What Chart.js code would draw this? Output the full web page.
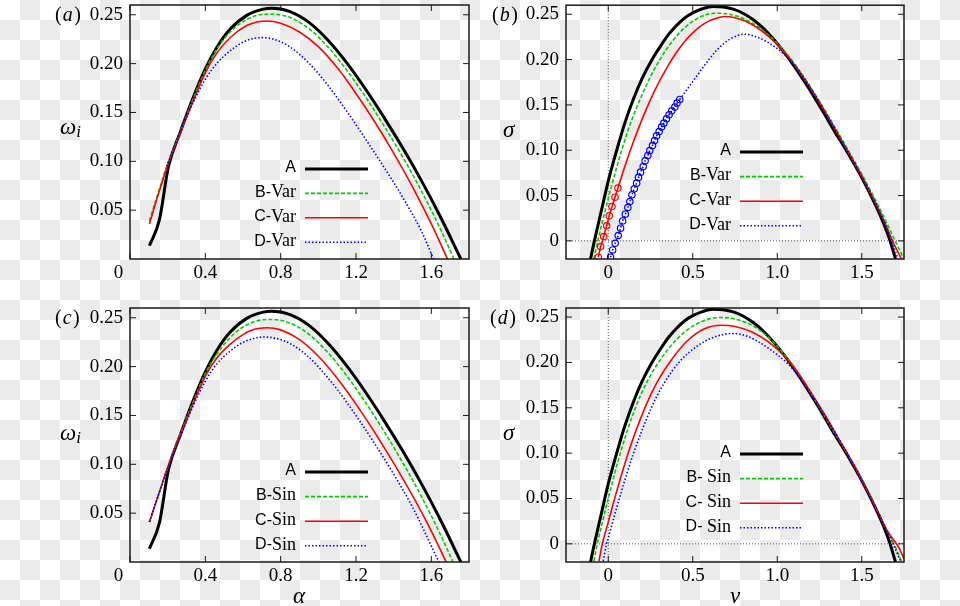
<!DOCTYPE html>
<html>
<head>
<meta charset="utf-8">
<script src="https://cdn.jsdelivr.net/npm/chart.js@4.4.1/dist/chart.umd.min.js"></script>
<style>
  html, body { margin: 0; padding: 0; }
  body {
    width: 960px; height: 606px; position: relative; overflow: hidden;
    background: repeating-conic-gradient(#ebebeb 0 25%, #ffffff 0 50%) 0 0 / 40px 40px;
  }
  .panel { position: absolute; }
</style>
</head>
<body>
<div class="panel" style="left:0;top:0;width:480px;height:300px"><canvas id="pa"></canvas></div>
<div class="panel" style="left:480px;top:0;width:480px;height:300px"><canvas id="pb"></canvas></div>
<div class="panel" style="left:0;top:300px;width:480px;height:306px"><canvas id="pc"></canvas></div>
<div class="panel" style="left:480px;top:300px;width:480px;height:306px"><canvas id="pd"></canvas></div>
<script>
// ---- data: [x, y] pairs ----
// (a), (c): omega_i against alpha
var alphaA = [[0.103,0.0136],[0.156,0.040],[0.204,0.0945],[0.265,0.129],[0.336,0.1656],[0.40,0.1946],[0.46,0.2163],[0.531,0.2351],[0.62,0.2494],[0.708,0.2558],[0.752,0.2566],[0.85,0.2532],[0.95,0.2422],[1.05,0.2242],[1.15,0.201],[1.25,0.174],[1.35,0.1445],[1.45,0.113],[1.55,0.0792],[1.65,0.0425],[1.757,0]];
var alphaBVar = [[0.103,0.039],[0.15,0.068],[0.204,0.100],[0.265,0.129],[0.336,0.1645],[0.40,0.1932],[0.46,0.2145],[0.531,0.2322],[0.62,0.2452],[0.70,0.2502],[0.761,0.2505],[0.85,0.2472],[0.95,0.2357],[1.05,0.2172],[1.15,0.1935],[1.25,0.166],[1.35,0.136],[1.45,0.1037],[1.55,0.0687],[1.65,0.03],[1.72,0]];
var alphaCVar = [[0.103,0.0358],[0.15,0.066],[0.204,0.098],[0.265,0.128],[0.336,0.162],[0.40,0.1905],[0.46,0.2105],[0.531,0.2265],[0.62,0.239],[0.68,0.2428],[0.726,0.2436],[0.80,0.2414],[0.90,0.2324],[1.0,0.2174],[1.1,0.1959],[1.2,0.1694],[1.3,0.1402],[1.4,0.1084],[1.5,0.0739],[1.6,0.0359],[1.686,0]];
var alphaDVar = [[0.195,0.095],[0.25,0.122],[0.30,0.145],[0.35,0.166],[0.40,0.184],[0.46,0.2],[0.531,0.213],[0.60,0.222],[0.65,0.2255],[0.699,0.2266],[0.76,0.2251],[0.85,0.217],[0.95,0.2005],[1.05,0.178],[1.15,0.1515],[1.25,0.123],[1.35,0.0935],[1.45,0.0625],[1.55,0.0275],[1.612,0]];
var alphaBSin = [[0.103,0.041],[0.15,0.068],[0.204,0.099],[0.265,0.13],[0.336,0.164],[0.40,0.193],[0.46,0.2125],[0.531,0.2295],[0.60,0.2405],[0.68,0.2471],[0.752,0.2483],[0.85,0.2446],[0.95,0.2331],[1.05,0.2146],[1.15,0.1909],[1.25,0.1634],[1.35,0.1334],[1.45,0.1011],[1.55,0.0661],[1.65,0.0274],[1.715,0]];
var alphaCSin = [[0.103,0.041],[0.15,0.068],[0.204,0.099],[0.265,0.129],[0.336,0.162],[0.40,0.19],[0.46,0.2085],[0.531,0.2228],[0.60,0.2328],[0.66,0.2382],[0.726,0.2398],[0.80,0.2376],[0.90,0.2276],[1.0,0.2106],[1.1,0.1881],[1.2,0.1616],[1.3,0.1324],[1.4,0.1012],[1.5,0.0679],[1.6,0.0317],[1.679,0]];
var alphaDSin = [[0.103,0.041],[0.15,0.068],[0.204,0.098],[0.265,0.127],[0.336,0.16],[0.40,0.185],[0.46,0.2025],[0.531,0.2158],[0.60,0.2248],[0.65,0.2285],[0.708,0.2303],[0.78,0.2287],[0.86,0.2225],[0.94,0.2113],[1.0,0.1999],[1.1,0.1767],[1.2,0.1499],[1.3,0.1209],[1.4,0.0899],[1.5,0.0562],[1.64,0]];

// (b), (d): sigma against v
var vA = [[-0.105,-0.02],[-0.082,0],[-0.04,0.034],[0,0.066],[0.05,0.1],[0.1,0.131],[0.15,0.157],[0.2,0.179],[0.256,0.199],[0.306,0.214],[0.356,0.2275],[0.406,0.238],[0.453,0.246],[0.503,0.2518],[0.553,0.2558],[0.62,0.2587],[0.68,0.2581],[0.74,0.2557],[0.80,0.2509],[0.86,0.2437],[0.92,0.2341],[0.98,0.2221],[1.04,0.2083],[1.10,0.1929],[1.16,0.1761],[1.22,0.1583],[1.28,0.1397],[1.34,0.1205],[1.40,0.1025],[1.46,0.0833],[1.52,0.0626],[1.58,0.04],[1.63,0.019],[1.663,0.0025],[1.70,-0.02]];
var vBVar = [[-0.085,-0.02],[-0.062,0],[-0.02,0.032],[0.02,0.061],[0.082,0.1013],[0.125,0.1263],[0.17,0.148],[0.24,0.1774],[0.305,0.2],[0.375,0.2192],[0.45,0.2347],[0.55,0.2475],[0.64,0.2512],[0.70,0.2505],[0.76,0.248],[0.82,0.2435],[0.88,0.237],[0.94,0.2285],[1.0,0.218],[1.06,0.2055],[1.12,0.1908],[1.18,0.1745],[1.24,0.157],[1.30,0.1385],[1.36,0.1195],[1.42,0.1],[1.48,0.0805],[1.54,0.0598],[1.60,0.038],[1.65,0.019],[1.698,0],[1.75,-0.02]];
var vCVar = [[0.057,0.0582],[0.10,0.0831],[0.15,0.1098],[0.20,0.134],[0.25,0.1558],[0.30,0.1751],[0.35,0.192],[0.40,0.207],[0.45,0.2195],[0.50,0.2295],[0.55,0.2375],[0.60,0.243],[0.65,0.2462],[0.689,0.2476],[0.75,0.2462],[0.81,0.2425],[0.87,0.2365],[0.93,0.2285],[0.99,0.2185],[1.05,0.2065],[1.11,0.1922],[1.17,0.1761],[1.23,0.1585],[1.29,0.14],[1.35,0.1207],[1.41,0.1012],[1.47,0.0815],[1.53,0.0608],[1.59,0.0385],[1.64,0.0185],[1.682,0],[1.735,-0.02]];
var vCVarPts = [[-0.059,-0.018],[-0.045,-0.0063],[-0.027,0.0047],[-0.0094,0.0166],[0.006,0.0276],[0.022,0.0379],[0.040,0.0482],[0.057,0.0582]];
var vDVarPts = [[0.014,-0.018],[0.026,-0.010],[0.041,-0.0026],[0.059,0.0059],[0.073,0.014],[0.085,0.022],[0.101,0.0294],[0.116,0.0368],[0.128,0.0434],[0.140,0.0508],[0.154,0.0574],[0.168,0.0637],[0.179,0.070],[0.191,0.0758],[0.207,0.082],[0.218,0.0883],[0.234,0.0942],[0.246,0.0997],[0.262,0.1052],[0.274,0.1107],[0.286,0.1159],[0.301,0.1206],[0.315,0.1255],[0.329,0.1299],[0.345,0.1347],[0.360,0.1391],[0.376,0.1435],[0.394,0.1476],[0.407,0.152],[0.423,0.156]];
var vDVar = [[0.423,0.156],[0.47,0.168],[0.52,0.181],[0.571,0.194],[0.64,0.21],[0.72,0.2225],[0.807,0.228],[0.87,0.2255],[0.93,0.2205],[0.99,0.2135],[1.05,0.2045],[1.11,0.1925],[1.17,0.1765],[1.23,0.1588],[1.29,0.1402],[1.35,0.121],[1.41,0.1015],[1.47,0.0818],[1.53,0.061],[1.59,0.0388],[1.64,0.0185],[1.675,0],[1.715,-0.02]];
var vBSin = [[-0.085,-0.019],[-0.065,0],[-0.03,0.027],[0,0.05],[0.07,0.099],[0.157,0.1482],[0.23,0.1789],[0.305,0.202],[0.40,0.2245],[0.50,0.24],[0.60,0.248],[0.669,0.2495],[0.75,0.2479],[0.85,0.2409],[0.95,0.2274],[1.05,0.2069],[1.10,0.1942],[1.16,0.1775],[1.22,0.1597],[1.28,0.1411],[1.34,0.1219],[1.40,0.1039],[1.46,0.0848],[1.52,0.0642],[1.58,0.042],[1.63,0.0225],[1.69,0],[1.735,-0.019]];
var vCSin = [[-0.055,-0.019],[-0.035,0],[0,0.024],[0.039,0.0507],[0.118,0.1001],[0.216,0.1496],[0.29,0.1785],[0.374,0.203],[0.47,0.2242],[0.57,0.2372],[0.669,0.241],[0.75,0.2396],[0.85,0.2336],[0.95,0.2224],[1.05,0.2054],[1.12,0.1896],[1.18,0.1725],[1.24,0.155],[1.30,0.1365],[1.36,0.1172],[1.42,0.0978],[1.48,0.0775],[1.54,0.0562],[1.60,0.0335],[1.65,0.0145],[1.69,0.004],[1.725,-0.006],[1.75,-0.017]];
var vDSin = [[-0.03,-0.019],[-0.01,0],[0,0.0066],[0.069,0.0521],[0.148,0.0991],[0.256,0.1504],[0.33,0.177],[0.423,0.201],[0.53,0.2185],[0.63,0.2282],[0.738,0.2319],[0.82,0.229],[0.90,0.2215],[1.0,0.2085],[1.06,0.199],[1.12,0.1865],[1.18,0.1712],[1.24,0.154],[1.30,0.1357],[1.36,0.117],[1.42,0.0975],[1.48,0.0772],[1.54,0.0558],[1.60,0.0332],[1.65,0.0137],[1.685,0],[1.73,-0.019]];

// ticks
var alphaTicks = [0, 0.4, 0.8, 1.2, 1.6];
var vTicks = [0, 0.5, 1.0, 1.5];
var omegaTicks = [0.05, 0.10, 0.15, 0.20, 0.25];
var sigmaTicks = [0, 0.05, 0.10, 0.15, 0.20, 0.25];

// line styles
var styleA = {borderColor: '#000000', borderWidth: 3};
var styleB = {borderColor: '#00cc00', borderWidth: 1.6, borderDash: [4, 2]};
var styleC = {borderColor: '#ff0000', borderWidth: 1.6};
var styleD = {borderColor: '#0000ff', borderWidth: 1.6, borderDash: [1.5, 2]};

var serif = '"Liberation Serif", "DejaVu Serif", serif';
var sans = '"Liberation Sans", Arial, sans-serif';

function curve(label, pts, st, extra) {
    return Object.assign({
        label: label,
        data: pts.map(function (p) { return {x: p[0], y: p[1]}; }),
        pointRadius: 0,
        fill: false,
        cubicInterpolationMode: 'monotone'
    }, st, extra || {});
}

function circles(label, pts, st) {
    return curve(label, pts, st, {
        inLegend: false, cubicInterpolationMode: 'default', tension: 0,
        pointRadius: 3.2, pointBorderWidth: 1.2, pointStyle: 'circle',
        pointBorderColor: st.borderColor, pointBackgroundColor: 'rgba(0,0,0,0)'
    });
}

// gnuplot look: frame, inward ticks on all sides, zero lines, legend, titles
var gp = {
    id: 'gp',
    beforeDatasetsDraw: function (chart, args, o) {
        if (!o.zero) return;
        var ctx = chart.ctx, a = chart.chartArea;
        var px = chart.scales.x.getPixelForValue(0), py = chart.scales.y.getPixelForValue(0);
        ctx.save();
        ctx.strokeStyle = '#555'; ctx.lineWidth = 1; ctx.setLineDash([1, 2]);
        ctx.beginPath();
        ctx.moveTo(px, a.top); ctx.lineTo(px, a.bottom);
        ctx.moveTo(a.left, py); ctx.lineTo(a.right, py);
        ctx.stroke();
        ctx.restore();
    },
    afterDatasetsDraw: function (chart, args, o) {
        var ctx = chart.ctx, a = chart.chartArea, sx = chart.scales.x, sy = chart.scales.y;
        ctx.save();
        ctx.strokeStyle = '#1a1a1a'; ctx.lineWidth = 1.5;
        ctx.strokeRect(a.left, a.top, a.right - a.left, a.bottom - a.top);
        ctx.lineWidth = 1;
        ctx.beginPath();
        sx.ticks.forEach(function (t) {
            var p = sx.getPixelForValue(t.value);
            ctx.moveTo(p, a.bottom); ctx.lineTo(p, a.bottom - 6);
            ctx.moveTo(p, a.top); ctx.lineTo(p, a.top + 6);
        });
        sy.ticks.forEach(function (t) {
            var p = sy.getPixelForValue(t.value);
            ctx.moveTo(a.left, p); ctx.lineTo(a.left + 6, p);
            ctx.moveTo(a.right, p); ctx.lineTo(a.right - 6, p);
        });
        ctx.stroke();

        // legend: text right-aligned, line sample on the right
        var L = o.legend;
        var x1 = a.right - L.right, x0 = x1 - L.len;
        var items = chart.data.datasets.filter(function (d) { return d.inLegend !== false; });
        items.forEach(function (d, i) {
            var y = a.bottom - L.bottom + i * L.row;
            ctx.save();
            ctx.strokeStyle = d.borderColor; ctx.lineWidth = d.borderWidth;
            ctx.setLineDash(d.borderDash || []);
            ctx.beginPath(); ctx.moveTo(x0, y); ctx.lineTo(x1, y); ctx.stroke();
            ctx.restore();
            var k = d.label.indexOf('-');
            var head = k < 0 ? d.label : d.label.slice(0, k + 1);
            var tail = k < 0 ? '' : d.label.slice(k + 1);
            ctx.fillStyle = '#000'; ctx.textAlign = 'right'; ctx.textBaseline = 'middle';
            ctx.font = '18px ' + serif;
            var tw = ctx.measureText(tail).width;
            ctx.fillText(tail, x0 - 9, y - 1);
            ctx.font = '16px ' + sans;
            ctx.fillText(head, x0 - 9 - tw, y - 1);
        });
        ctx.restore();
    },
    afterDraw: function (chart, args, o) {
        var ctx = chart.ctx;
        ctx.save();
        ctx.fillStyle = '#000'; ctx.textBaseline = 'alphabetic'; ctx.textAlign = 'left';
        // panel tag like (a)
        var t = o.tag, x = t.x;
        ctx.font = '20px ' + serif;
        ctx.fillText('(', x, t.y); x += ctx.measureText('(').width + 1;
        ctx.font = 'italic 20px ' + serif;
        ctx.fillText(t.t, x, t.y); x += ctx.measureText(t.t).width + 1.5;
        ctx.font = '20px ' + serif;
        ctx.fillText(')', x, t.y);
        // y title
        var yt = o.yTitle;
        ctx.font = 'italic 23px ' + serif;
        ctx.fillText(yt.main, yt.x, yt.y);
        if (yt.sub) {
            var w = ctx.measureText(yt.main).width;
            ctx.font = 'italic 17px ' + serif;
            ctx.fillText(yt.sub, yt.x + w, yt.y + 3);
        }
        // x title
        if (o.xTitle) {
            ctx.textAlign = 'center';
            ctx.font = 'italic 23px ' + serif;
            ctx.fillText(o.xTitle.t, o.xTitle.x, o.xTitle.y);
        }
        ctx.restore();
    }
};

function axis(dir, range, ticks, fmt, size) {
    return {
        type: 'linear',
        position: dir === 'x' ? 'bottom' : 'left',
        min: range[0], max: range[1],
        grid: {display: false, drawTicks: false},
        border: {display: false},
        ticks: {
            font: {family: serif, size: 19}, color: '#000',
            padding: dir === 'x' ? 3 : 7, autoSkip: false, maxRotation: 0,
            callback: function (v) { return fmt(v); }
        },
        afterBuildTicks: function (s) { s.ticks = ticks.map(function (v) { return {value: v}; }); },
        afterFit: function (s) {
            if (dir === 'x') { s.height = size; s.paddingLeft = 0; s.paddingRight = 0; }
            else { s.width = size; s.paddingTop = 0; s.paddingBottom = 0; }
        }
    };
}

var fmtAlpha = function (v) { return v === 0 ? '0\u2003\u2009' : v.toFixed(1); };
var fmtV = function (v) { return v === 0 ? '0' : v.toFixed(1); };
var fmtY = function (v) { return v === 0 ? '0' : v.toFixed(2); };

function panel(id, datasets, cfg) {
    return new Chart(document.getElementById(id), {
        type: 'line',
        data: {datasets: datasets},
        plugins: [gp],
        options: {
            responsive: true, maintainAspectRatio: false, animation: false,
            layout: {padding: cfg.pad},
            plugins: {legend: {display: false}, tooltip: {enabled: false}, gp: cfg.gp},
            scales: {
                x: axis('x', cfg.xr, cfg.xTicks, cfg.xFmt, cfg.xH),
                y: axis('y', cfg.yr, cfg.yTicks, fmtY, cfg.yW)
            }
        }
    });
}

panel('pa', [
    curve('A', alphaA, styleA, {order: 4}),
    curve('B-Var', alphaBVar, styleB, {order: 3}),
    curve('C-Var', alphaCVar, styleC, {order: 2}),
    curve('D-Var', alphaDVar, styleD, {order: 1})
], {
    pad: {top: 5, right: 11, left: 0, bottom: 0},
    xr: [0, 1.8], yr: [0, 0.26], xTicks: alphaTicks, yTicks: omegaTicks, xFmt: fmtAlpha, xH: 41, yW: 130,
    gp: {tag: {t: 'a', x: 55, y: 21}, yTitle: {main: 'ω', sub: 'i', x: 60, y: 134},
         legend: {right: 101, bottom: 90, len: 63, row: 24.4}}
});

panel('pb', [
    curve('A', vA, styleA, {order: 6}),
    curve('B-Var', vBVar, styleB, {order: 5}),
    curve('C-Var', vCVar, styleC, {order: 4}),
    curve('D-Var', vDVar, styleD, {order: 1}),
    circles('C-Var', vCVarPts, styleC),
    circles('D-Var', vDVarPts, styleD)
], {
    pad: {top: 5, right: 56, left: 0, bottom: 0},
    xr: [-0.25, 1.75], yr: [-0.02, 0.26], xTicks: vTicks, yTicks: sigmaTicks, xFmt: fmtV, xH: 41, yW: 86,
    gp: {zero: true, tag: {t: 'b', x: 12, y: 21}, yTitle: {main: 'σ', x: 23, y: 137},
         legend: {right: 101, bottom: 107, len: 63, row: 24.6}}
});

panel('pc', [
    curve('A', alphaA, styleA, {order: 4}),
    curve('B-Sin', alphaBSin, styleB, {order: 3}),
    curve('C-Sin', alphaCSin, styleC, {order: 2}),
    curve('D-Sin', alphaDSin, styleD, {order: 1})
], {
    pad: {top: 8, right: 11, left: 0, bottom: 0},
    xr: [0, 1.8], yr: [0, 0.26], xTicks: alphaTicks, yTicks: omegaTicks, xFmt: fmtAlpha, xH: 44, yW: 130,
    gp: {tag: {t: 'c', x: 55, y: 24}, yTitle: {main: 'ω', sub: 'i', x: 60, y: 140},
         xTitle: {t: 'α', x: 299, y: 303},
         legend: {right: 101, bottom: 90, len: 63, row: 24.6}}
});

panel('pd', [
    curve('A', vA, styleA, {order: 4}),
    curve('B- Sin', vBSin, styleB, {order: 3}),
    curve('C- Sin', vCSin, styleC, {order: 2}),
    curve('D- Sin', vDSin, styleD, {order: 1})
], {
    pad: {top: 8, right: 56, left: 0, bottom: 0},
    xr: [-0.25, 1.75], yr: [-0.02, 0.26], xTicks: vTicks, yTicks: sigmaTicks, xFmt: fmtV, xH: 44, yW: 86,
    gp: {zero: true, tag: {t: 'd', x: 10, y: 24}, yTitle: {main: 'σ', x: 23, y: 140},
         xTitle: {t: 'v', x: 255, y: 303},
         legend: {right: 101, bottom: 108, len: 63, row: 24.6}}
});
</script>
</body>
</html>
